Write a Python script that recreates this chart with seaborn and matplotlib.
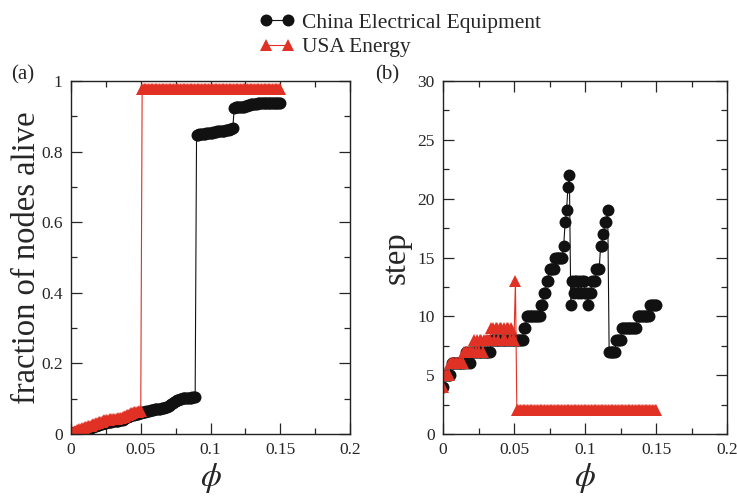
import numpy as np
import matplotlib
matplotlib.use("Agg")
import matplotlib.pyplot as plt
import seaborn as sns
from matplotlib.ticker import MultipleLocator, FuncFormatter

# tolerance parameter, sampled every 0.001
phi = np.round(np.linspace(0, 0.15, 151), 3)

# fraction of nodes alive, China Electrical Equipment
china_frac = [
    0.002, 0.003, 0.004, 0.005, 0.006, 0.007, 0.008, 0.009, 0.010, 0.011,
    0.012, 0.014, 0.015, 0.016, 0.018, 0.019, 0.020, 0.022, 0.023, 0.025,
    0.026, 0.027, 0.029, 0.030, 0.031, 0.032, 0.033, 0.034, 0.035, 0.035,
    0.036, 0.036, 0.037, 0.037, 0.038, 0.039, 0.040, 0.041, 0.043, 0.045,
    0.047, 0.049, 0.051, 0.053, 0.054, 0.055, 0.056, 0.057, 0.058, 0.059,
    0.060, 0.061, 0.062, 0.063, 0.064, 0.065, 0.066, 0.067, 0.068, 0.069,
    0.070, 0.070, 0.071, 0.071, 0.072, 0.073, 0.074, 0.075, 0.076, 0.077,
    0.079, 0.081, 0.084, 0.087, 0.090, 0.093, 0.095, 0.097, 0.099, 0.100,
    0.101, 0.101, 0.102, 0.102, 0.102, 0.103, 0.103, 0.104, 0.105, 0.106,
    0.847, 0.848, 0.849, 0.849, 0.850, 0.850, 0.851, 0.852, 0.852, 0.853,
    0.853, 0.854, 0.855, 0.855, 0.856, 0.857, 0.857, 0.858, 0.858, 0.859,
    0.859, 0.860, 0.861, 0.862, 0.863, 0.864, 0.866, 0.924, 0.925, 0.925,
    0.926, 0.926, 0.926, 0.927, 0.927, 0.928, 0.929, 0.931, 0.933, 0.935,
    0.936, 0.936, 0.936, 0.936, 0.937, 0.937, 0.937, 0.937, 0.937, 0.937,
    0.937, 0.937, 0.938, 0.938, 0.938, 0.938, 0.938, 0.938, 0.938, 0.938,
    0.938,
]

# fraction of nodes alive, USA Energy
usa_frac = [
    0.003, 0.005, 0.007, 0.009, 0.011, 0.012, 0.014, 0.015, 0.016, 0.018,
    0.019, 0.020, 0.022, 0.023, 0.024, 0.026, 0.027, 0.029, 0.030, 0.032,
    0.033, 0.034, 0.035, 0.037, 0.039, 0.040, 0.041, 0.041, 0.042, 0.042,
    0.042, 0.043, 0.043, 0.043, 0.044, 0.045, 0.046, 0.048, 0.049, 0.051,
    0.053, 0.055, 0.057, 0.059, 0.060, 0.061, 0.062, 0.062, 0.063, 0.064,
    0.065, 0.976, 0.976, 0.976, 0.976, 0.976, 0.976, 0.976, 0.976, 0.976,
    0.976, 0.976, 0.976, 0.976, 0.976, 0.976, 0.976, 0.976, 0.976, 0.976,
    0.976, 0.976, 0.976, 0.976, 0.976, 0.976, 0.976, 0.976, 0.976, 0.976,
    0.976, 0.976, 0.976, 0.976, 0.976, 0.976, 0.976, 0.976, 0.976, 0.976,
    0.976, 0.976, 0.976, 0.976, 0.976, 0.976, 0.976, 0.976, 0.976, 0.976,
    0.976, 0.976, 0.976, 0.976, 0.976, 0.976, 0.976, 0.976, 0.976, 0.976,
    0.976, 0.976, 0.976, 0.976, 0.976, 0.976, 0.976, 0.976, 0.976, 0.976,
    0.976, 0.976, 0.976, 0.976, 0.976, 0.976, 0.976, 0.976, 0.976, 0.976,
    0.976, 0.976, 0.976, 0.976, 0.976, 0.976, 0.976, 0.976, 0.976, 0.976,
    0.976, 0.976, 0.976, 0.976, 0.976, 0.976, 0.976, 0.976, 0.976, 0.976,
    0.976,
]

# cascade steps, written as (step value, number of consecutive phi points)
china_step_runs = [
    (4, 1), (5, 5), (6, 10), (7, 1), (6, 1), (7, 1), (6, 1), (7, 14),
    (8, 23), (9, 2), (10, 10), (11, 2), (12, 2), (13, 2), (14, 4), (15, 6),
    (16, 1), (18, 1), (19, 1), (21, 1), (22, 1), (11, 1),
    (13, 1), (12, 1), (13, 2), (12, 1), (13, 1), (12, 1), (13, 2), (12, 2),
    (11, 1), (12, 2), (13, 3), (14, 3), (16, 2), (17, 1), (18, 2), (19, 1),
    (7, 5), (8, 4), (9, 11), (10, 9), (11, 5),
]
usa_step_runs = [
    (4, 1), (5, 4), (6, 10), (7, 7),
    (8, 1), (7, 1), (8, 1), (7, 1), (8, 2), (7, 1), (8, 5), (9, 2),
    (8, 1), (9, 2), (8, 1), (9, 2), (8, 1), (9, 1), (8, 1), (9, 2), (8, 1),
    (9, 1), (8, 2), (13, 1), (2, 99),
]

china_step = np.repeat([v for v, n in china_step_runs], [n for v, n in china_step_runs])
usa_step = np.repeat([v for v, n in usa_step_runs], [n for v, n in usa_step_runs])

BLACK = "#111111"
RED = "#e03124"

sns.set_style("ticks")
plt.rcParams["font.family"] = ["Liberation Serif", "DejaVu Serif"]
plt.rcParams["mathtext.fontset"] = "stix"

fig = plt.figure(figsize=(7.37, 4.98), dpi=100)
ax1 = fig.add_axes([71 / 737, 64 / 498, 279 / 737, 353 / 498])
ax2 = fig.add_axes([443 / 737, 64 / 498, 284 / 737, 353 / 498])

for ax, ys_china, ys_usa in [(ax1, china_frac, usa_frac), (ax2, china_step, usa_step)]:
    sns.lineplot(x=phi, y=ys_china, ax=ax, color=BLACK, marker="o", markersize=8.6,
                 markeredgewidth=0, linewidth=0.8, estimator=None, sort=False,
                 label="China Electrical Equipment")
    sns.lineplot(x=phi, y=ys_usa, ax=ax, color=RED, marker="^", markersize=8.8,
                 markeredgewidth=0, linewidth=0.8, estimator=None, sort=False,
                 label="USA Energy")
    ax.get_legend().remove()
    ax.set_xlim(0, 0.2)
    ax.xaxis.set_major_locator(MultipleLocator(0.05))
    ax.xaxis.set_minor_locator(MultipleLocator(0.025))
    ax.xaxis.set_major_formatter(FuncFormatter(lambda v, p: f"{v:g}"))
    ax.tick_params(which="both", direction="in", top=True, right=True,
                   labelsize=12.5, width=0.9, pad=6)
    ax.tick_params(which="major", length=8)
    ax.tick_params(which="minor", length=4)
    for s in ax.spines.values():
        s.set_linewidth(1.0)
        s.set_color("#222222")
    ax.set_xlabel(r"$\phi$", fontsize=24, labelpad=2)

ax1.set_ylim(0, 1)
ax1.yaxis.set_major_locator(MultipleLocator(0.2))
ax1.yaxis.set_minor_locator(MultipleLocator(0.1))
ax1.yaxis.set_major_formatter(FuncFormatter(lambda v, p: f"{v:g}"))
ax1.set_ylabel("fraction of nodes alive", fontsize=23.5, labelpad=-1)

ax2.set_ylim(0, 30)
ax2.yaxis.set_major_locator(MultipleLocator(5))
ax2.yaxis.set_minor_locator(MultipleLocator(2.5))
ax2.set_ylabel("step", fontsize=23.5, labelpad=4)

fig.text(23 / 737, 1 - 75 / 498, "(a)", ha="center", va="center", fontsize=15)
fig.text(387 / 737, 1 - 75 / 498, "(b)", ha="center", va="center", fontsize=15)

handles, labels = ax1.get_legend_handles_labels()
fig.legend(handles, labels, loc="upper left", bbox_to_anchor=(247 / 737, 1.0),
           frameon=False, fontsize=15.5, numpoints=2, handlelength=1.6,
           handletextpad=0.35, labelspacing=0.2, borderpad=0.1)

fig.savefig("out.png", dpi=100)
